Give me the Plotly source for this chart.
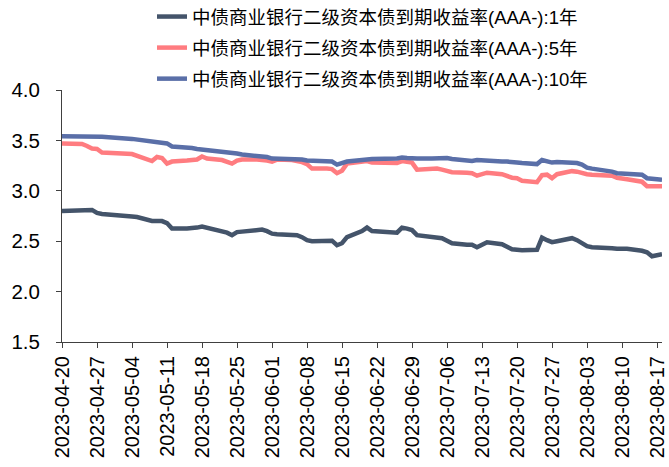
import plotly.graph_objects as go

# Trading days (interbank market holidays skipped)
dates = [
    "2023-04-20", "2023-04-21", "2023-04-24", "2023-04-25", "2023-04-26", "2023-04-27", "2023-04-28",
    "2023-05-04", "2023-05-05", "2023-05-08", "2023-05-09", "2023-05-10", "2023-05-11", "2023-05-12",
    "2023-05-15", "2023-05-16", "2023-05-17", "2023-05-18", "2023-05-19",
    "2023-05-22", "2023-05-23", "2023-05-24", "2023-05-25", "2023-05-26",
    "2023-05-29", "2023-05-30", "2023-05-31", "2023-06-01", "2023-06-02",
    "2023-06-05", "2023-06-06", "2023-06-07", "2023-06-08", "2023-06-09",
    "2023-06-12", "2023-06-13", "2023-06-14", "2023-06-15", "2023-06-16",
    "2023-06-19", "2023-06-20", "2023-06-21",
    "2023-06-26", "2023-06-27", "2023-06-28", "2023-06-29", "2023-06-30",
    "2023-07-03", "2023-07-04", "2023-07-05", "2023-07-06", "2023-07-07",
    "2023-07-10", "2023-07-11", "2023-07-12", "2023-07-13", "2023-07-14",
    "2023-07-17", "2023-07-18", "2023-07-19", "2023-07-20", "2023-07-21",
    "2023-07-24", "2023-07-25", "2023-07-26", "2023-07-27", "2023-07-28",
    "2023-07-31", "2023-08-01", "2023-08-02", "2023-08-03", "2023-08-04",
    "2023-08-07", "2023-08-08", "2023-08-09", "2023-08-10", "2023-08-11",
    "2023-08-14", "2023-08-15", "2023-08-16", "2023-08-17", "2023-08-18",
]

# Yield to maturity (%), 1-year tenor
yield_1y = [
    2.80, 2.80, 2.80, 2.805, 2.81, 2.78, 2.77,
    2.745, 2.74, 2.70, 2.705, 2.70, 2.68, 2.625,
    2.625, 2.625, 2.635, 2.645, 2.635,
    2.60, 2.585, 2.56, 2.59, 2.595,
    2.615, 2.615, 2.60, 2.575, 2.57,
    2.565, 2.56, 2.54, 2.51, 2.50,
    2.50, 2.505, 2.46, 2.48, 2.54,
    2.60, 2.635, 2.60,
    2.585, 2.635, 2.625, 2.61, 2.56,
    2.545, 2.54, 2.53, 2.505, 2.48,
    2.465, 2.465, 2.44, 2.465, 2.49,
    2.47, 2.445, 2.42, 2.415, 2.41,
    2.415, 2.535, 2.51, 2.49, 2.50,
    2.53, 2.51, 2.48, 2.45, 2.44,
    2.44, 2.43, 2.425, 2.43, 2.425,
    2.405, 2.39, 2.35, 2.365, 2.37,
]

# Yield to maturity (%), 5-year tenor
yield_5y = [
    3.47, 3.47, 3.465, 3.445, 3.42, 3.415, 3.38,
    3.365, 3.35, 3.295, 3.335, 3.325, 3.27, 3.29,
    3.30, 3.30, 3.31, 3.34, 3.32,
    3.305, 3.285, 3.27, 3.30, 3.31,
    3.31, 3.31, 3.30, 3.29, 3.31,
    3.305, 3.30, 3.285, 3.265, 3.22,
    3.22, 3.215, 3.175, 3.20, 3.27,
    3.29, 3.295, 3.28,
    3.275, 3.295, 3.285, 3.28, 3.21,
    3.215, 3.22, 3.21, 3.195, 3.185,
    3.18, 3.175, 3.15, 3.17, 3.18,
    3.165, 3.145, 3.13, 3.125, 3.10,
    3.085, 3.155, 3.16, 3.125, 3.165,
    3.195, 3.19, 3.175, 3.165, 3.16,
    3.15, 3.15, 3.13, 3.125, 3.115,
    3.09, 3.045, 3.045, 3.045, 3.045,
]

# Yield to maturity (%), 10-year tenor
yield_10y = [
    3.54, 3.54, 3.54, 3.53, 3.535, 3.54, 3.535,
    3.515, 3.51, 3.49, 3.48, 3.475, 3.47, 3.44,
    3.435, 3.425, 3.415, 3.41, 3.405,
    3.395, 3.38, 3.375, 3.37, 3.36,
    3.35, 3.34, 3.335, 3.32, 3.32,
    3.32, 3.32, 3.31, 3.30, 3.30,
    3.295, 3.29, 3.26, 3.275, 3.29,
    3.305, 3.31, 3.315,
    3.32, 3.33, 3.325, 3.32, 3.32,
    3.32, 3.32, 3.33, 3.325, 3.315,
    3.30, 3.295, 3.305, 3.30, 3.295,
    3.29, 3.29, 3.29, 3.28, 3.275,
    3.265, 3.305, 3.295, 3.28, 3.285,
    3.28, 3.275, 3.26, 3.23, 3.22,
    3.205, 3.19, 3.175, 3.17, 3.165,
    3.16, 3.125, 3.115, 3.115, 3.11,
]

series_names = [
    "中债商业银行二级资本债到期收益率(AAA-):1年",
    "中债商业银行二级资本债到期收益率(AAA-):5年",
    "中债商业银行二级资本债到期收益率(AAA-):10年",
]
series_colors = ["#44546A", "#FF7C80", "#5A6FA8"]

font_family = "Arial, Liberation Sans, Noto Sans CJK SC, sans-serif"

fig = go.Figure()
for name, values, color in zip(series_names, [yield_1y, yield_5y, yield_10y], series_colors):
    fig.add_trace(go.Scatter(
        x=dates, y=values, mode="lines", name=name, legendgroup=name,
        line=dict(color=color, width=4.5),
    ))

fig.update_layout(
    width=669, height=467,
    margin=dict(l=62, r=7, t=90, b=125, autoexpand=False),
    paper_bgcolor="white", plot_bgcolor="white",
    font=dict(family=font_family, color="#000000"),
    showlegend=True,
    legend=dict(
        x=0.15, y=1.365, xanchor="left", yanchor="top",
        font=dict(size=18.5, family=font_family, color="#000000"),
        bgcolor="rgba(0,0,0,0)", traceorder="grouped",
        tracegroupgap=4, itemwidth=30,
    ),
)

fig.update_xaxes(
    type="date",
    range=["2023-04-20", "2023-08-18"],
    tick0="2023-04-20", dtick=7 * 86400000,
    tickformat="%Y-%m-%d", tickangle=-90,
    tickfont=dict(size=20, family=font_family),
    ticklabeloverflow="allow",
    showgrid=False, zeroline=False,
    showline=True, linecolor="#404040", linewidth=1,
    ticks="outside", ticklen=5, tickcolor="#404040",
)
fig.update_yaxes(
    range=[1.5, 4.0], dtick=0.5, tick0=1.5, tickformat=".1f",
    tickfont=dict(size=20.5, family=font_family),
    showgrid=False, zeroline=False,
    showline=True, linecolor="#404040", linewidth=1,
    ticks="outside", ticklen=5, tickcolor="#404040",
    ticklabelstandoff=12,
)

fig.write_html("out.html")
